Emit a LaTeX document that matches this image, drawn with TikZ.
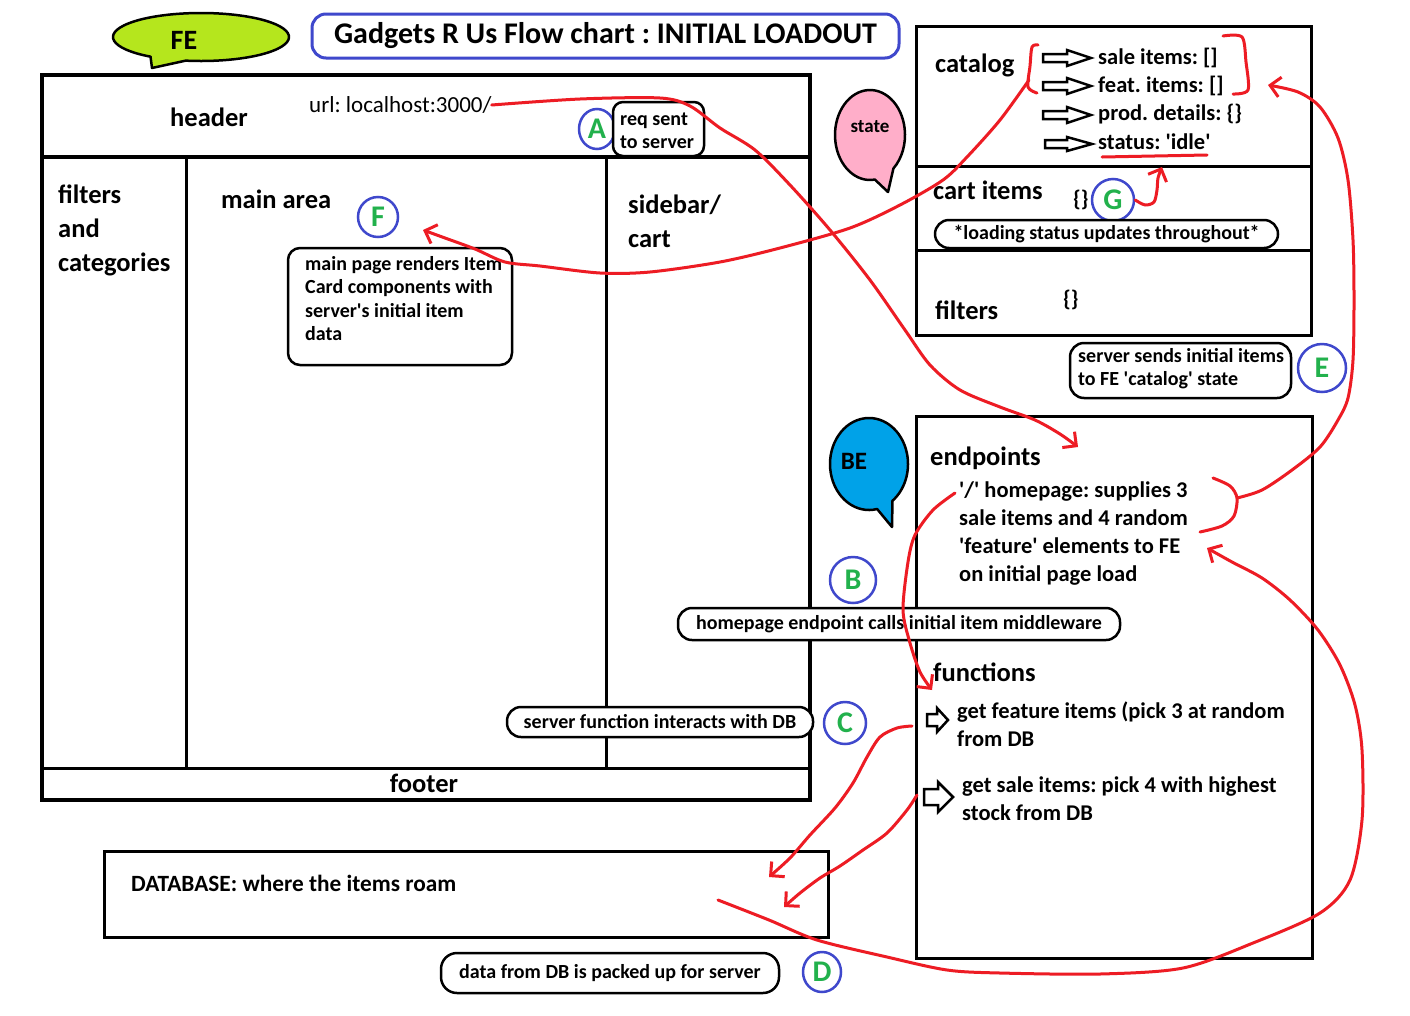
\documentclass[tikz,border=0pt]{standalone}
\usepackage{fontspec}
\setmainfont{Carlito}
\usetikzlibrary{arrows.meta,shapes.geometric}
\definecolor{pred}{HTML}{ED1C24}
\definecolor{pblue}{HTML}{3F48CC}
\definecolor{pgreen}{HTML}{22B14C}
\definecolor{plime}{HTML}{B5E61D}
\definecolor{ppink}{HTML}{FFAEC9}
\definecolor{pcyan}{HTML}{00A2E8}
\frenchspacing
\newcommand\fbig{\fontsize{26.5}{34}\selectfont\bfseries}
\newcommand\fmid{\fontsize{22.5}{28}\selectfont\bfseries}
\newcommand\fsm{\fontsize{20}{23.5}\selectfont\bfseries}
\newcommand\tstrut{\rule{0pt}{0.75em}}
\newcommand\sq{\textquotesingle}
\tikzset{
  lbl/.style={inner sep=0, anchor=west},
  big/.style={lbl, font=\fbig},
  mid/.style={lbl, font=\fmid},
  sm/.style={lbl, font=\fsm},
  mtext/.style={inner sep=0, anchor=north west, align=left},
  panel/.style={draw, line width=3pt, inner sep=0},
  rbox/.style={draw, line width=2.5pt, rounded corners=12pt, fill=white, inner sep=0},
  capsule/.style={draw, line width=2.5pt, rounded corners=14pt, fill=white, inner sep=0, font=\fsm},
  letter/.style={circle, draw=pblue, line width=2.5pt, text=pgreen, font=\fontsize{30}{30}\selectfont\bfseries, inner sep=0},
  redline/.style={draw=pred, line width=3pt, line cap=round, line join=round},
  redarrow/.style={redline, -{Straight Barb[length=10pt, width=20pt]}},
  pics/harrow/.style args={#1/#2/#3/#4}{code={
    \draw[line width=2.5pt, line join=miter, fill=white] (0,-#2) -- (#1,-#2) -- (#1,-#4) -- (#3,0) -- (#1,#4) -- (#1,#2) -- (0,#2) -- cycle;}}
}
\begin{document}
\begin{tikzpicture}[x=1pt,y=-1pt]
\fill[white] (0,0) rectangle (1410,1015);
\useasboundingbox (0,0) rectangle (1410,1015);

% ---------- FE bubble and title
\filldraw[fill=plime, line width=2.5pt, line join=round] (201,37) ++(125:88 and 24) arc[start angle=125,end angle=460,x radius=88,y radius=24] -- (152,68) -- cycle;
\node[font=\fontsize{28}{28}\selectfont\bfseries, inner sep=0] (fe) at (184,40) {FE};
\node[draw=pblue, line width=3pt, rounded corners=14pt, minimum width=587pt, minimum height=44pt, inner sep=0, font=\fontsize{30}{30}\selectfont\bfseries] (title) at (605.5,36) {Gadgets R Us Flow chart : INITIAL LOADOUT};

% ---------- FE frame
\node[panel, line width=4.5pt, minimum width=768pt, minimum height=725pt] (fframe) at (426,437.5) {};
\draw[line width=3.5pt] (42,157) -- (810,157);
\draw[line width=3pt] (186,157) -- (186,768);
\draw[line width=3pt] (606,157) -- (606,768);
\draw[line width=3pt] (42,768) -- (810,768);

\node[big] (header) at (170,117) {header};
\node[lbl, font=\fontsize{23}{28}\selectfont] (url) at (309,105) {url: localhost:3000/};
\node[letter, ellipse, minimum width=36pt, minimum height=40pt] (A) at (597,129) {A};
\node[rbox, minimum width=91pt, minimum height=54pt, rounded corners=10pt] (reqbox) at (658.5,129) {};
\node[mtext, font=\fsm] (reqtxt) at (620,110) {\tstrut req sent\\to server};

\node[mtext, font=\fbig] (filters) at (58,183) {\tstrut filters\\and\\categories};
\node[big] (mainarea) at (221,199) {main area};
\node[letter, minimum size=40pt] (F) at (378,217) {F};
\node[rbox, minimum width=224pt, minimum height=117pt] (mainbox) at (400,306.5) {};
\node[mtext, font=\fsm] (maintxt) at (305,255) {\tstrut main page renders Item\\Card components with\\server\sq s initial item\\data};
\node[mtext, font=\fbig] (sidebar) at (628,193) {\tstrut sidebar/\\cart};
\node[font=\fbig, inner sep=0] (footer) at (424,783) {footer};
\node[capsule, minimum width=306pt, minimum height=30pt] (srvfn) at (660,722) {server function interacts with DB};
\node[letter, minimum size=42pt] (C) at (845,723) {C};

% ---------- state bubble
\filldraw[fill=ppink, line width=2.5pt, line join=round] (870,135) ++(82:35 and 45) arc[start angle=82,end angle=408,x radius=35,y radius=45] -- (888,192) -- cycle;
\node[font=\fontsize{19}{19}\selectfont\bfseries, inner sep=0] (state) at (870,127) {state};

% ---------- catalog panel
\node[panel, minimum width=395pt, minimum height=309pt] (catpanel) at (1113.5,180.5) {};
\draw[line width=3pt] (916,166) -- (1311,166);
\draw[line width=3pt] (916,250) -- (1311,250);
\node[big] (catalog) at (935,65) {catalog};
\pic at (1043,58) {harrow={24/4/48/8}};
\pic at (1043,86) {harrow={24/4/48/8}};
\pic at (1043,115) {harrow={24/4/48/8}};
\pic at (1045,144) {harrow={22/4/47/7}};
\node[mid] (sale) at (1098,58) {sale items: []};
\node[mid] (feat) at (1098,86) {feat. items: []};
\node[mid] (prod) at (1098,114) {prod. details: \{\}};
\node[mid] (status) at (1098,142) {status: \sq idle\sq};
\node[big] (cart) at (933,190) {cart items};
\node[mid] (cartbr) at (1073,200) {\{\}};
\node[letter, minimum size=42pt] (G) at (1113,200) {G};
\node[capsule, minimum width=343pt, minimum height=28pt] (loading) at (1106.5,234) {*loading status updates throughout*};
\node[big] (filt2) at (935,310) {filters};
\node[mid] (filtbr) at (1063,300) {\{\}};
\node[rbox, minimum width=221pt, minimum height=55pt, rounded corners=14pt] (sendbox) at (1180.5,370.5) {};
\node[mtext, font=\fsm] (sendtxt) at (1078,347) {\tstrut server sends initial items\\to FE \sq catalog\sq\ state};
\node[letter, minimum size=48pt] (E) at (1322,368) {E};

% ---------- BE bubble
\filldraw[fill=pcyan, line width=2.5pt, line join=round] (869,464) ++(78:39 and 46) arc[start angle=78,end angle=413,x radius=39,y radius=46] -- (892,527) -- cycle;
\node[font=\fontsize{25}{25}\selectfont\bfseries, inner sep=0] (BE) at (854,461) {BE};

% ---------- endpoints panel
\node[panel, minimum width=396pt, minimum height=542pt] (eppanel) at (1114,687) {};
\node[big] (endpoints) at (930,458) {endpoints};
\node[mtext, font=\fmid] (eptxt) at (959,480.5) {\tstrut \sq/\sq\ homepage: supplies 3\\sale items and 4 random\\\sq feature\sq\ elements to FE\\on initial page load};
\node[letter, minimum size=46pt] (B) at (853,580) {B};
\node[capsule, minimum width=442pt, minimum height=32pt] (homecap) at (899,624) {homepage endpoint calls initial item middleware};
\node[big] (functions) at (933,672) {functions};
\pic at (927,720) {harrow={10/6/21/12}};
\pic at (924,797) {harrow={14/8/29/15}};
\node[mtext, font=\fmid] (fn1) at (957,701.5) {\tstrut get feature items (pick 3 at random\\from DB};
\node[mtext, font=\fmid] (fn2) at (962,775.5) {\tstrut get sale items: pick 4 with highest\\stock from DB};

% ---------- database
\node[panel, minimum width=724pt, minimum height=86pt] (db) at (466,894) {};
\node[lbl, font=\fontsize{23.3}{28}\selectfont\bfseries] (dbtxt) at (131,883) {DATABASE: where the items roam};
\node[capsule, minimum width=338pt, minimum height=40pt, rounded corners=16pt] (datacap) at (610,973) {data from DB is packed up for server};
\node[letter, ellipse, minimum width=38pt, minimum height=40pt] (D) at (822,972) {D};

% ---------- red marks
\coordinate (brL) at (1029,80);
\coordinate (brR) at (1268,85);
\coordinate (epbr) at (1237,498);
\coordinate (epin) at (1078,447);
\coordinate (fin) at (423,230);
\coordinate (stin) at (1162,167);
\coordinate (dbout) at (718,900);
\coordinate (epin2) at (1207,548);
\coordinate (hpout) at (955,493);
\coordinate (fnin) at (932,690);
\coordinate (f1out) at (912,726);
\coordinate (f2out) at (917,795);
\coordinate (db1) at (769,877);
\coordinate (db2) at (784,907);

\draw[redline] plot[smooth] coordinates {(1038,45) (1032,47) (1030,66) (1028,87) (1037,93)};
\draw[redline] plot[smooth] coordinates {(1223,36) (1242,37) (1246,62) (1248,90) (1233,94)};
\draw[redline] (1102,157) -- (1207,155);
\draw[redline] plot[smooth] coordinates {(1213,478) (1230,486) (1237,498) (1234,516) (1222,526) (1200,532)};

\draw[redarrow] plot[smooth, tension=0.5] coordinates {(url.east) (580,99) (660,98) (690,106) (720,128) (755,150) (790,185) (830,230) (870,280) (905,330) (930,365) (960,390) (1000,407) (1035,420) (1060,434) (epin)};
\draw[redarrow] plot[smooth, tension=0.5] coordinates {(brL) (1000,120) (967,157) (943,180) (900,205) (850,228) (780,248) (720,262) (650,272) (600,273) (540,266) (505,262) (475,249) (445,238) (fin)};
\draw[redarrow] plot[smooth, tension=0.5] coordinates {(G.east) (1145,205) (1154,202) (1157,190) (1158,178) (stin)};
\draw[redarrow] plot[smooth, tension=0.5] coordinates {(epbr) (1262,490) (1292,470) (1320,447) (1338,420) (1348,398) (1353,360) (1354,300) (1353,240) (1348,180) (1338,138) (1320,107) (1298,92) (brR)};
\draw[redarrow] plot[smooth, tension=0.5] coordinates {(dbout) (769,920) (817,940) (887,957) (947,970) (1000,973) (1100,974) (1183,968) (1253,943) (1320,913) (1350,880) (1362,820) (1362,750) (1355,705) (1340,665) (1318,630) (1290,600) (1262,578) (1232,562) (epin2)};
\draw[redarrow] plot[smooth, tension=0.5] coordinates {(hpout) (933,510) (915,535) (908,562) (903,610) (910,643) (920,672) (fnin)};
\draw[redarrow] plot[smooth, tension=0.5] coordinates {(f1out) (897,728) (880,737) (867,757) (853,783) (835,808) (810,835) (790,858) (db1)};
\draw[redarrow] plot[smooth, tension=0.5] coordinates {(f2out) (907,810) (887,833) (863,850) (840,866) (820,878) (800,893) (db2)};
\end{tikzpicture}
\end{document}
